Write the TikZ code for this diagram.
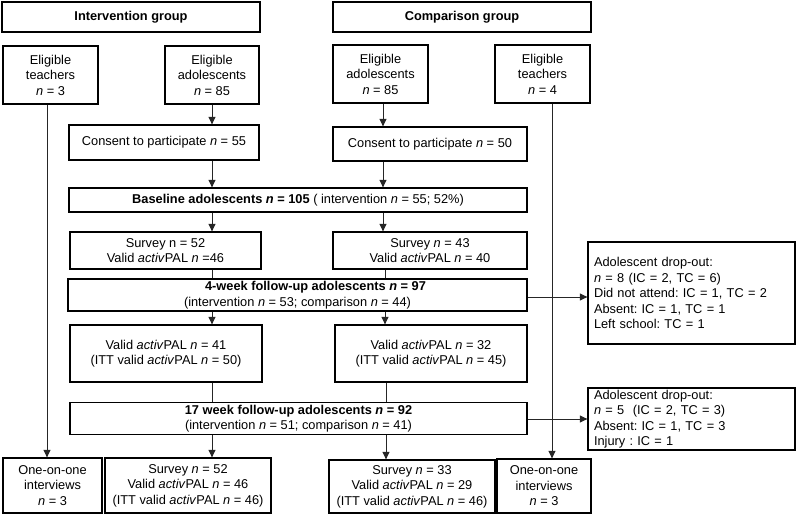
\documentclass[tikz,border=0pt]{standalone}
\usepackage{fontspec}
\setmainfont{Liberation Sans}
\usetikzlibrary{arrows.meta}
\frenchspacing
\begin{document}
\begin{tikzpicture}[x=1pt,y=-1pt,
  box/.style={draw=black,line width=1.3pt,align=center,inner sep=2pt,font=\fontsize{12.8}{15.5}\selectfont},
  lbox/.style={box,align=left,text width=195pt,inner xsep=6pt,inner ysep=1pt},
  conn/.style={draw=black!85,line width=0.7pt},
  arr/.style={conn,-{Triangle[length=7.5pt,width=7pt]}}]
\useasboundingbox (0,0) rectangle (797,524);
\node[box,minimum width=258,minimum height=30] (hI) at (131,17) {\textbf{Intervention group}};
\node[box,minimum width=258,minimum height=30] (hC) at (462,17) {\textbf{Comparison group}};
\node[box,minimum width=95,minimum height=58] (tL) at (50.5,75) {Eligible\\teachers\\\textit{n} = 3};
\node[box,minimum width=94,minimum height=58] (aI) at (212,75) {Eligible\\adolescents\\\textit{n} = 85};
\node[box,minimum width=95,minimum height=58] (aC) at (380.5,74) {Eligible\\adolescents\\\textit{n} = 85};
\node[box,minimum width=95,minimum height=58] (tR) at (542.5,74) {Eligible\\teachers\\\textit{n} = 4};
\node[box,minimum width=190,minimum height=35] (cI) at (164,142.5) {Consent to participate \textit{n} = 55};
\node[box,minimum width=194,minimum height=34] (cC) at (430,144) {Consent to participate \textit{n} = 50};
\node[box,minimum width=458,minimum height=24] (base) at (298,200) {\textbf{Baseline adolescents \textit{n} = 105} ( intervention \textit{n} = 55; 52\%)};
\node[box,minimum width=191,minimum height=37] (sI) at (165.5,250.5) {Survey n = 52\\Valid \textit{activ}PAL \textit{n} =46};
\node[box,minimum width=194,minimum height=37] (sC) at (430,250.5) {Survey \textit{n} = 43\\Valid \textit{activ}PAL \textit{n} = 40};
\node[box,minimum width=459,minimum height=32] (f4) at (297.5,295) {\hspace*{36pt}\textbf{4-week follow-up adolescents \textit{n} = 97}\\(intervention \textit{n} = 53; comparison \textit{n} = 44)};
\node[box,minimum width=192,minimum height=57] (vI) at (166,353.5) {Valid \textit{activ}PAL \textit{n} = 41\\(ITT valid \textit{activ}PAL \textit{n} = 50)};
\node[box,minimum width=192,minimum height=57] (vC) at (431,353.5) {Valid \textit{activ}PAL \textit{n} = 32\\(ITT valid \textit{activ}PAL \textit{n} = 45)};
\node[box,minimum width=457,minimum height=31] (f17) at (298.5,418.5) {\textbf{17 week follow-up adolescents \textit{n} = 92}\\(intervention \textit{n} = 51; comparison \textit{n} = 41)};
\node[box,minimum width=99,minimum height=55] (oL) at (52.5,485.5) {One-on-one\\interviews\\\textit{n} = 3};
\node[box,minimum width=166,minimum height=55] (bI) at (188,485.5) {Survey \textit{n} = 52\\Valid \textit{activ}PAL \textit{n} = 46\\(ITT valid \textit{activ}PAL \textit{n} = 46)};
\node[box,minimum width=166,minimum height=53] (bC) at (412,486.5) {Survey \textit{n} = 33\\Valid \textit{activ}PAL \textit{n} = 29\\(ITT valid \textit{activ}PAL \textit{n} = 46)};
\node[box,minimum width=94,minimum height=54] (oR) at (544,486) {One-on-one\\interviews\\\textit{n} = 3};
\node[lbox,minimum height=102] (d1) at (691.5,293) {Adolescent drop-out:\\\textit{n} = 8 (IC = 2, TC = 6)\\Did not attend: IC = 1, TC = 2\\Absent: IC = 1, TC = 1\\Left school: TC = 1};
\node[lbox,minimum height=62] (d2) at (691.5,419) {Adolescent drop-out:\\\textit{n} = 5\ \ (IC = 2, TC = 3)\\Absent: IC = 1, TC = 3\\Injury : IC = 1};
% teacher lines
\draw[arr] (tL.south -| 47,0) -- (oL.north -| 47,0);
\draw[arr] (tR.south -| 552,0) -- (oR.north -| 552,0);
% intervention column
\draw[arr] (aI.south -| 212,0) -- (cI.north -| 212,0);
\draw[arr] (cI.south -| 212,0) -- (base.north -| 212,0);
\draw[arr] (base.south -| 212,0) -- (sI.north -| 212,0);
\draw[conn] (sI.south -| 212,0) -- (f4.north -| 212,0);
\draw[arr] (f4.south -| 212,0) -- (vI.north -| 212,0);
\draw[conn] (vI.south -| 212,0) -- (f17.north -| 212,0);
\draw[arr] (f17.south -| 212,0) -- (bI.north -| 212,0);
% comparison column
\draw[arr] (aC.south -| 383,0) -- (cC.north -| 383,0);
\draw[arr] (cC.south -| 383,0) -- (base.north -| 383,0);
\draw[arr] (base.south -| 383,0) -- (sC.north -| 383,0);
\draw[conn] (sC.south -| 385,0) -- (f4.north -| 385,0);
\draw[arr] (f4.south -| 385,0) -- (vC.north -| 385,0);
\draw[conn] (vC.south -| 386,0) -- (f17.north -| 386,0);
\draw[arr] (f17.south -| 386,0) -- (bC.north -| 386,0);
% dropouts
\draw[arr] (f4.east |- 0,297) -- (d1.west |- 0,297);
\draw[arr] (f17.east |- 0,419) -- (d2.west |- 0,419);
\end{tikzpicture}
\end{document}
